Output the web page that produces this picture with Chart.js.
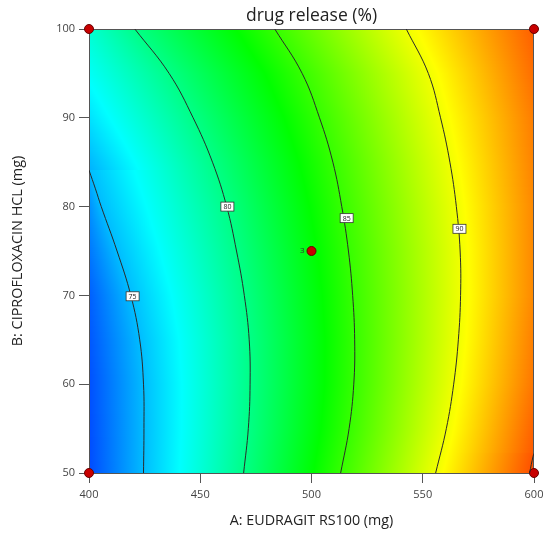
<!DOCTYPE html>
<html>
<head>
<meta charset="utf-8">
<script src="https://cdn.jsdelivr.net/npm/chart.js@4.4.1/dist/chart.umd.min.js"></script>
<style>
  html, body { margin: 0; padding: 0; background: #fff; }
  canvas { display: block; }
</style>
</head>
<body>
<canvas id="contour" width="543" height="543"></canvas>
<script>
// factor ranges
const eudragitRange = [400, 600];
const ciproRange = [50, 100];

// contour lines, points are [A, B]
const contour75 = [[400, 84.1], [402.9, 82], [405.5, 80], [412.6, 75], [418.8, 70], [422.8, 65], [424.5, 60], [424.7, 55], [424.5, 50]];
const contour80 = [[420.6, 100], [436, 95], [446.8, 90], [455.5, 85], [461.9, 80], [466.3, 75], [469.8, 70], [472, 65], [472.4, 60], [471.6, 55], [469.5, 50]];
const contour85 = [[483.5, 100], [495.8, 95], [503.6, 90], [509.6, 85], [513.6, 80], [516.6, 75], [518.5, 70], [519.4, 65], [519, 60], [516.9, 55], [513.1, 50]];
const contour90 = [[542.6, 100], [552.5, 95], [558, 90], [562.2, 85], [565.1, 80], [566.8, 75], [567, 70], [566, 65], [563.9, 60], [560.6, 55], [555.8, 50]];
const contour95 = [[600, 52.2], [599.6, 51.9], [598, 50]];
const contours = [contour75, contour80, contour85, contour90, contour95];
const contourLevels = [75, 80, 85, 90, 95];

// where the level labels sit
const labelLevels = [75, 80, 85, 90];
const labelA = [419.6, 462.2, 515.8, 566.5];
const labelB = [69.9, 80, 78.7, 77.5];

// response at the left (A=400) and right (A=600) edges
const edgeB = [50, 60, 70, 80, 90, 100];
const leftEdge = [72.0, 72.1, 72.5, 73.8, 76.0, 78.0];
const rightEdge = [95.1, 94.1, 93.6, 93.6, 93.9, 94.7];

// design points
const designA = [400, 400, 600, 600, 500];
const designB = [50, 100, 100, 50, 75];
const designRuns = ['', '', '', '', '3'];

// colour ramp of the response
const colorLevels = [70, 76.8, 83.6, 90.4, 97.2];
const colorRamp = [[0, 0, 255], [0, 255, 255], [0, 255, 0], [255, 255, 0], [255, 0, 0]];

const FONT = "'Open Sans', 'Noto Sans', sans-serif";

function lerp(xs, ys, v) {
  if (v <= xs[0]) return ys[0];
  for (let i = 1; i < xs.length; i++) {
    if (v <= xs[i]) {
      const t = (v - xs[i - 1]) / (xs[i] - xs[i - 1]);
      return ys[i - 1] + t * (ys[i] - ys[i - 1]);
    }
  }
  return ys[ys.length - 1];
}

function levelColor(v) {
  const n = colorLevels.length;
  if (v <= colorLevels[0]) return `rgb(${colorRamp[0].join(',')})`;
  if (v >= colorLevels[n - 1]) return `rgb(${colorRamp[n - 1].join(',')})`;
  let i = 1;
  while (v > colorLevels[i]) i++;
  const t = (v - colorLevels[i - 1]) / (colorLevels[i] - colorLevels[i - 1]);
  const c = colorRamp[i - 1].map((c0, k) => Math.round(c0 + t * (colorRamp[i][k] - c0)));
  return `rgb(${c.join(',')})`;
}

// A where a contour line passes B=b (null if it doesn't)
function crossing(line, b) {
  const pts = line.slice().sort((p, q) => p[1] - q[1]);
  if (b < pts[0][1] || b > pts[pts.length - 1][1]) return null;
  return lerp(pts.map(p => p[1]), pts.map(p => p[0]), b);
}

const fieldPlugin = {
  id: 'field',
  beforeDatasetsDraw(chart) {
    const { ctx, chartArea: a, scales: { x, y } } = chart;
    const w = a.right - a.left;
    ctx.save();
    for (let py = Math.floor(a.top); py < a.bottom; py++) {
      const b = y.getValueForPixel(py + 0.5);
      const knots = [[eudragitRange[0], lerp(edgeB, leftEdge, b)]];
      contours.forEach((line, k) => {
        const cx = crossing(line, b);
        if (cx !== null) knots.push([cx, contourLevels[k]]);
      });
      knots.push([eudragitRange[1], lerp(edgeB, rightEdge, b)]);
      knots.sort((p, q) => p[0] - q[0]);

      const g = ctx.createLinearGradient(a.left, 0, a.right, 0);
      const stop = (xa, v) => {
        const f = Math.min(1, Math.max(0, (x.getPixelForValue(xa) - a.left) / w));
        g.addColorStop(f, levelColor(v));
      };
      for (let i = 0; i < knots.length; i++) {
        const [xa, va] = knots[i];
        stop(xa, va);
        if (i < knots.length - 1) {
          const [xb, vb] = knots[i + 1];
          colorLevels.forEach(l => {
            if ((l - va) * (l - vb) < 0) stop(xa + (l - va) / (vb - va) * (xb - xa), l);
          });
        }
      }
      ctx.fillStyle = g;
      ctx.fillRect(a.left, py, w, 1);
    }
    ctx.strokeStyle = '#555';
    ctx.lineWidth = 1;
    ctx.strokeRect(Math.round(a.left) + 0.5, Math.round(a.top) + 0.5, Math.round(w) - 1, Math.round(a.bottom - a.top));
    ctx.restore();
  },
  afterDatasetsDraw(chart) {
    const { ctx, scales: { x, y } } = chart;
    ctx.save();
    // contour level labels
    ctx.font = `7px ${FONT}`;
    ctx.textAlign = 'center';
    ctx.textBaseline = 'middle';
    labelLevels.forEach((lv, i) => {
      const px = x.getPixelForValue(labelA[i]);
      const py = y.getPixelForValue(labelB[i]);
      ctx.fillStyle = '#fff';
      ctx.fillRect(px - 6.5, py - 4.5, 13, 9);
      ctx.strokeStyle = '#333';
      ctx.lineWidth = 0.8;
      ctx.strokeRect(px - 6.5, py - 4.5, 13, 9);
      ctx.fillStyle = '#222';
      ctx.fillText(String(lv), px, py + 0.5);
    });
    // replicate count beside the centre point
    ctx.font = `8px ${FONT}`;
    ctx.textAlign = 'right';
    ctx.fillStyle = '#333';
    designRuns.forEach((r, i) => {
      if (!r) return;
      ctx.fillText(r, x.getPixelForValue(designA[i]) - 7, y.getPixelForValue(designB[i]));
    });
    ctx.restore();
  }
};

const lineSets = contours.map((line, k) => ({
  label: 'R' + contourLevels[k],
  data: line.map(p => ({ x: p[0], y: p[1] })),
  showLine: true,
  borderColor: '#2a2a2a',
  borderWidth: 1,
  pointRadius: 0,
  tension: 0.4,
  fill: false
}));

const pointSet = {
  label: 'design',
  data: designA.map((a, i) => ({ x: a, y: designB[i] })),
  showLine: false,
  pointRadius: 4.5,
  pointBackgroundColor: '#c80000',
  pointBorderColor: '#6a0000',
  pointBorderWidth: 1,
  clip: false
};

new Chart(document.getElementById('contour'), {
  type: 'scatter',
  data: { datasets: [...lineSets, pointSet] },
  plugins: [fieldPlugin],
  options: {
    responsive: false,
    animation: false,
    layout: { padding: { left: 0, right: 9, top: 0, bottom: 0 } },
    plugins: {
      legend: { display: false },
      tooltip: { enabled: false },
      title: {
        display: true,
        text: 'drug release (%)',
        fullSize: false,
        color: '#222',
        font: { family: FONT, size: 17.5, weight: 'normal' },
        padding: { top: 6, bottom: 2 }
      }
    },
    scales: {
      x: {
        type: 'linear',
        min: eudragitRange[0],
        max: eudragitRange[1],
        afterFit(s) { s.height = 70; s.paddingLeft = 0; s.paddingRight = 0; },
        ticks: { stepSize: 50, padding: 5, color: '#444', font: { family: FONT, size: 11 } },
        grid: { drawOnChartArea: false, tickLength: 10, color: '#555' },
        border: { color: '#555' },
        title: {
          display: true,
          text: 'A: EUDRAGIT RS100 (mg)',
          color: '#222',
          font: { family: FONT, size: 14.3 },
          padding: { top: 0, bottom: 13 }
        }
      },
      y: {
        type: 'linear',
        min: ciproRange[0],
        max: ciproRange[1],
        afterFit(s) { s.width = 89; s.paddingTop = 0; s.paddingBottom = 0; },
        ticks: { stepSize: 10, padding: 4, color: '#444', font: { family: FONT, size: 11 } },
        grid: { drawOnChartArea: false, tickLength: 10, color: '#555' },
        border: { color: '#555' },
        title: {
          display: true,
          text: 'B: CIPROFLOXACIN HCL (mg)',
          color: '#222',
          font: { family: FONT, size: 14.4 },
          padding: { top: 9, bottom: 0 }
        }
      }
    }
  }
});
</script>
</body>
</html>
